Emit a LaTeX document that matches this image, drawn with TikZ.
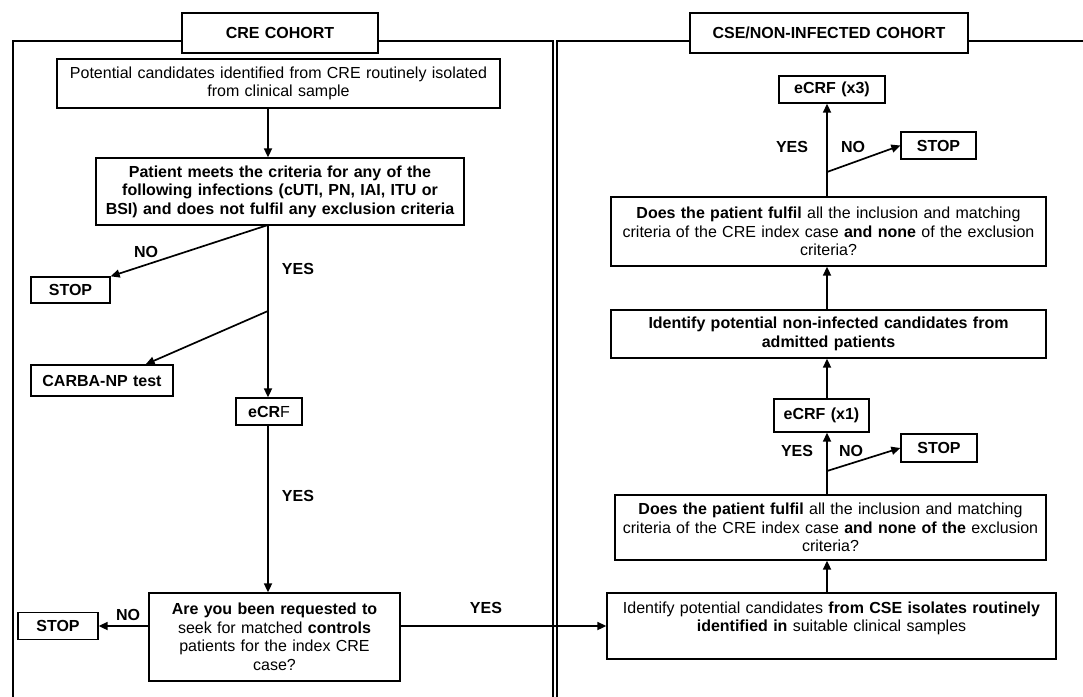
\documentclass[tikz,border=0pt]{standalone}
\usepackage{fontspec}
\setmainfont{Liberation Sans}
\usetikzlibrary{arrows.meta}
\begin{document}
\begin{tikzpicture}[x=1pt,y=-1pt,
  every node/.style={font=\fontsize{16pt}{18.5pt}\selectfont},
  bx/.style 2 args={draw, line width=1.3pt, fill=white, inner xsep=0pt, inner ysep=0pt, align=center, text width=#1, minimum height=#2},
  bf/.style={font=\fontsize{16pt}{18.5pt}\selectfont\bfseries},
  arr/.style={line width=1.7pt, -{Triangle[length=9pt,width=8pt]}},
  lbl/.style={font=\fontsize{16pt}{18.5pt}\selectfont\bfseries, inner sep=0pt},
  frame/.style={line width=1.3pt}]
\useasboundingbox[fill=white] (0,0) rectangle (1083,696);
% frames
\draw[frame] (13,700) -- (13,41) -- (553,41) -- (553,700);
\draw[frame] (557,700) -- (557,41) -- (1090,41);
% titles
\node[bx={196pt}{40pt}, bf] (t1) at (280,33) {CRE COHORT};
\node[bx={278pt}{40pt}, bf] (t2) at (829,33) {CSE/NON-INFECTED COHORT};
% left column
\node[bx={443pt}{49pt}] (b1) at (278.5,83.5) {Potential candidates identified from CRE routinely isolated\\from clinical sample};
\node[bx={368pt}{67pt}, bf] (b2) at (280,191.5) {Patient meets the criteria for any of the\\following infections (cUTI, PN, IAI, ITU or\\BSI) and does not fulfil any exclusion criteria};
\node[bx={79pt}{26pt}, bf] (stop1) at (70.5,290) {STOP};
\node[bx={142pt}{31pt}, bf] (carba) at (102,380.5) {CARBA-NP test};
\node[bx={66pt}{27pt}] (ecrf) at (269,411.5) {\textbf{eCR}F};
\node[bx={251pt}{88pt}] (q) at (274.5,637) {\textbf{Are you been requested to}\\seek for matched \textbf{controls}\\patients for the index CRE\\case?};
\node[bx={80pt}{27pt}, bf] (stop2) at (58,626) {STOP};
% right column
\node[bx={106pt}{27pt}, bf] (e3) at (832,89.5) {eCRF (x3)};
\node[bx={75pt}{27pt}, bf] (stop3) at (938.5,145.5) {STOP};
\node[bx={435pt}{69pt}] (q2) at (828.5,231.5) {\textbf{Does the patient fulfil} all the inclusion and matching\\criteria of the CRE index case \textbf{and none} of the exclusion\\criteria?};
\node[bx={435pt}{48pt}, bf] (ni) at (828.5,334) {Identify potential non-infected candidates from\\admitted patients};
\node[bx={95pt}{33pt}, bf] (e1) at (821.5,415.5) {eCRF (x1)};
\node[bx={76pt}{28pt}, bf] (stop4) at (939,448) {STOP};
\node[bx={431pt}{65pt}] (q3) at (830.5,527.5) {\textbf{Does the patient fulfil} all the inclusion and matching\\criteria of the CRE index case \textbf{and none of the} exclusion\\criteria?};
\node[bx={449pt}{66pt}] (cse) at (831.5,626) {Identify potential candidates \textbf{from CSE isolates routinely}\\\textbf{identified in} suitable clinical samples\\\mbox{}};
% branch coordinates
\coordinate (lb0) at (268,225);
\coordinate (lb1) at (268,311);
\coordinate (rb1) at (827,172);
\coordinate (rb2) at (827,471);
% left connectors
\draw[arr] (b1.south -| lb0) -- (b2.north -| lb0);
\draw[arr] (lb0) -- (stop1.north east);
\draw[arr] (lb0) -- (ecrf.north -| lb0);
\draw[arr] (lb1) -- ([xshift=-28pt]carba.north east);
\draw[arr] (ecrf.south -| lb0) -- (q.north -| lb0);
\draw[arr] (q.west |- stop2.east) -- (stop2.east);
\draw[arr] (q.east |- cse.west) -- (cse.west);
% right connectors
\draw[arr] (cse.north -| rb1) -- (q3.south -| rb1);
\draw[arr] (q3.north -| rb1) -- (e1.south -| rb1);
\draw[arr] (rb2) -- (stop4.west);
\draw[arr] (e1.north -| rb1) -- (ni.south -| rb1);
\draw[arr] (ni.north -| rb1) -- (q2.south -| rb1);
\draw[arr] (q2.north -| rb1) -- (e3.south -| rb1);
\draw[arr] (rb1) -- (stop3.west);
% labels
\node[lbl] (l1) at (146,252) {NO};
\node[lbl] (l2) at (298,269) {YES};
\node[lbl] (l3) at (298,496) {YES};
\node[lbl] (l4) at (128,615) {NO};
\node[lbl] (l5) at (486,608) {YES};
\node[lbl] (l6) at (792,147) {YES};
\node[lbl] (l7) at (853,147) {NO};
\node[lbl] (l8) at (797,451) {YES};
\node[lbl] (l9) at (851,451) {NO};
\end{tikzpicture}
\end{document}
